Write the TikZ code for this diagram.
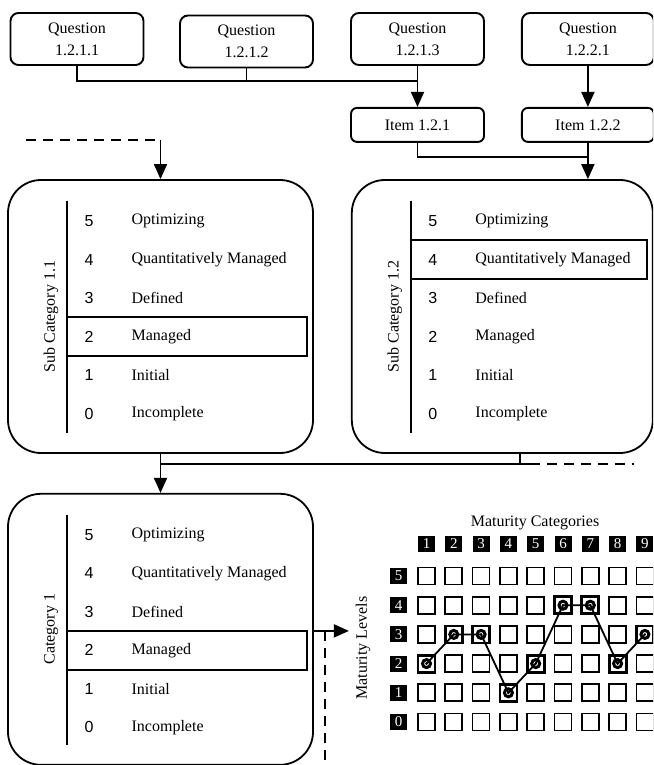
\documentclass[tikz,border=0pt]{standalone}
\usepackage{fontspec}
\setmainfont{Liberation Serif}
\newfontfamily\digitfont{Liberation Sans}
\usetikzlibrary{positioning, arrows.meta, calc}

\tikzset{
  qbox/.style={draw, line width=1.9pt, rounded corners=8pt, minimum width=133pt,
    minimum height=52pt, align=center, font=\fontsize{16}{22}\selectfont},
  itembox/.style={qbox, minimum height=34pt, rounded corners=6pt},
  lvlbox/.style={draw, line width=1.8pt, rounded corners=33pt, minimum width=305pt,
    minimum height=273pt},
  link/.style={line width=1.8pt},
  arr/.style={link, -{Triangle[length=15pt,width=13pt]}},
  dashlink/.style={link, dash pattern=on 10pt off 7pt},
  lvlnum/.style={font=\digitfont\fontsize{16}{18}\selectfont},
  lvltxt/.style={anchor=west, font=\fontsize{16}{18}\selectfont},
  sidelab/.style={rotate=90, font=\fontsize{16}{18}\selectfont},
  cell/.style={draw, line width=1.7pt, minimum size=17pt, inner sep=0pt, outer sep=0pt},
  hdr/.style={fill=black, text=white, minimum width=17pt, minimum height=16pt,
    inner sep=0pt, font=\fontsize{15}{15}\selectfont},
}

% #1 box name, #2 side label, #3 row of the chosen level (0 = top)
\newcommand{\levelrows}[3]{%
  \node[sidelab] (#1-lab) at ($(#1.west)+(44,0)$) {#2};
  \draw[link] ($(#1.north west)+(60,22)$) -- ($(#1.south west)+(60,-21)$);
  \foreach \num/\txt [count=\k from 0] in {5/Optimizing, 4/Quantitatively Managed,
      3/Defined, 2/Managed, 1/Initial, 0/Incomplete} {
    \node[lvlnum] (#1-n\num) at ($(#1.north west)+(82,42+38.5*\k)$) {\num};
    \node[lvltxt] (#1-t\num) at ($(#1.north west)+(121,42+38.5*\k)$) {\txt};
  }
  \draw[link] ($(#1.north west)+(60,22.5+38.5*#3)$) coordinate (#1-hl)
    rectangle ($(#1.north east)+(-7,61.5+38.5*#3)$);
}

\begin{document}
\begin{tikzpicture}[x=1pt, y=-1pt, font=\fontsize{16}{19}\selectfont]
  \path[use as bounding box, clip] (0,0) rectangle (653,765);

  % questions and items
  \node[qbox] (q1) at (77,39)    {Question\\1.2.1.1};
  \node[qbox] (q2) at (246.5,41.5) {Question\\1.2.1.2};
  \node[qbox] (q3) at (417.5,39) {Question\\1.2.1.3};
  \node[qbox, minimum width=132pt] (q4) [right=36pt of q3] {Question\\1.2.2.1};
  \node[itembox] (i1) [below=41pt of q3] {Item 1.2.1};
  \node[itembox, minimum width=132pt] (i2) [below=41pt of q4] {Item 1.2.2};

  % level boxes
  \node[lvlbox] (sc11) at (160.5,316.5) {};
  \node[lvlbox, minimum width=301pt] (sc12) [right=37pt of sc11] {};
  \node[lvlbox, minimum height=271pt] (cat1) [below=39pt of sc11] {};
  \levelrows{sc11}{Sub Category 1.1}{3}
  \levelrows{sc12}{Sub Category 1.2}{1}
  \levelrows{cat1}{Category 1}{3}

  % connectors
  \coordinate (qj) at ($(q3.south)+(0,15)$);
  \draw[link] (q1.south) |- (qj);
  \draw[link] (q2.south) -- (q2.south |- qj);
  \draw[arr] (q3.south) -- (i1.north);
  \draw[arr] (q4.south) -- (i2.north);
  \coordinate (ij) at ($(i2.south)+(0,14)$);
  \draw[link] (i1.south) |- (ij);
  \draw[arr] (i2.south) -- (i2.south |- sc12.north);

  \coordinate (dstart) at (26,140);
  \coordinate (dcorner) at (sc11.north |- dstart);
  \draw[dashlink] (dstart) -- (dcorner);
  \draw[arr] (dcorner) -- (sc11.north);

  \coordinate (cj) at ($(sc11.south)+(0,10)$);
  \coordinate (s12out) at ($(sc12.south)+(17.5,0)$);
  \coordinate (dsplit) at ($(s12out |- cj)+(10,0)$);
  \coordinate (dend) at ($(s12out |- cj)+(114,0)$);
  \draw[link] (sc11.south) -- (cj);
  \draw[link] (dsplit) -| (s12out);
  \draw[link] (s12out |- cj) -- (cj);
  \draw[dashlink] (dsplit) -- (dend);
  \draw[arr] (cj) -- (cat1.north);

  \coordinate (catout) at (cat1.east |- cat1-hl);
  \coordinate (lvin) at ($(catout)+(35,0)$);
  \coordinate (dv) at ($(catout)+(11,0)$);
  \draw[arr] (catout) -- (lvin);
  \draw[dashlink] (dv) -- (dv |- 0,765);

  % maturity grid
  \node (mcat) at (535,523) {Maturity Categories};
  \node[sidelab] (mlev) at (363,648) {Maturity Levels};
  \foreach \c in {1,...,9}
    \node[hdr] (h\c) at (426.5+27.3*\c-27.3,544) {\c};
  \foreach \r in {0,...,5}
    \node[hdr] (r\r) at (398.5,722-29.2*\r) {\r};
  \foreach \c in {1,...,9}
    \foreach \r in {0,...,5}
      \node[cell] (c\c-\r) at (h\c |- r\r) {};

  \draw[link] (c1-2.center) -- (c2-3.center) -- (c3-3.center) -- (c4-1.center)
    -- (c5-2.center) -- (c6-4.center) -- (c7-4.center) -- (c8-2.center) -- (c9-3.center);
  \foreach \c/\r in {1/2, 2/3, 3/3, 4/1, 5/2, 6/4, 7/4, 8/2, 9/3} {
    \draw[line width=2.8pt] (c\c-\r.south west) rectangle (c\c-\r.north east);
    \draw[line width=3pt] (c\c-\r.center) circle (4pt);
    \fill (c\c-\r.center) circle (1.4pt);
  }
\end{tikzpicture}
\end{document}
